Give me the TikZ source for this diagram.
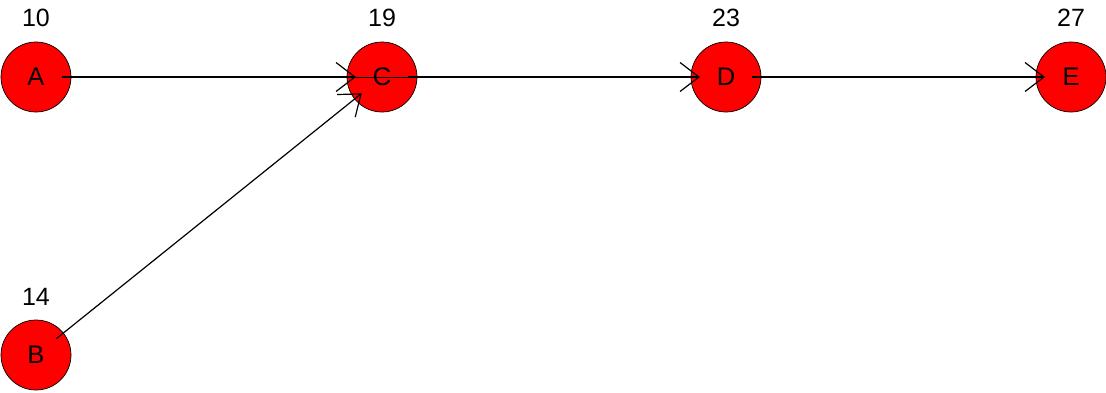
\documentclass[tikz,border=0pt]{standalone}
\usepackage{fontspec}
\setmainfont{Liberation Sans}
\usetikzlibrary{arrows.meta}
\tikzset{
  vertex/.style={circle, draw=black, line width=0.7pt, fill=red, minimum size=70pt, inner sep=0pt, font=\fontsize{25.5}{25.5}\selectfont},
  weight/.style={font=\fontsize{25}{25}\selectfont, inner sep=0pt},
  edge/.style={line width=1.2pt, shorten <=26pt, shorten >=26pt, -{Straight Barb[length=19pt, width=29pt, line width=1.2pt]}},
  thru/.style={line width=0.6pt}
}
\begin{document}
\begin{tikzpicture}[x=1pt, y=-1pt]
\useasboundingbox (0,0) rectangle (1106,392);
\node[vertex] (A) at (36,77) {A};
\node[vertex] (C) at (382,77) {C};
\node[vertex] (D) at (726,77) {D};
\node[vertex] (E) at (1071,77) {E};
\node[vertex] (B) at (36,355) {B};
\node[weight] (wA) at (36,18) {10};
\node[weight] (wC) at (382,18) {19};
\node[weight] (wD) at (726,18) {23};
\node[weight] (wE) at (1071,18) {27};
\node[weight] (wB) at (36,297) {14};
\draw[edge] (A.center) -- (C.center);
\draw[edge] (B.center) -- (C.center);
\draw[edge] (C.center) -- (D.center);
\draw[edge] (D.center) -- (E.center);
\draw[thru] ([xshift=-26pt]C.center) -- ([xshift=26pt]C.center);
\end{tikzpicture}
\end{document}
